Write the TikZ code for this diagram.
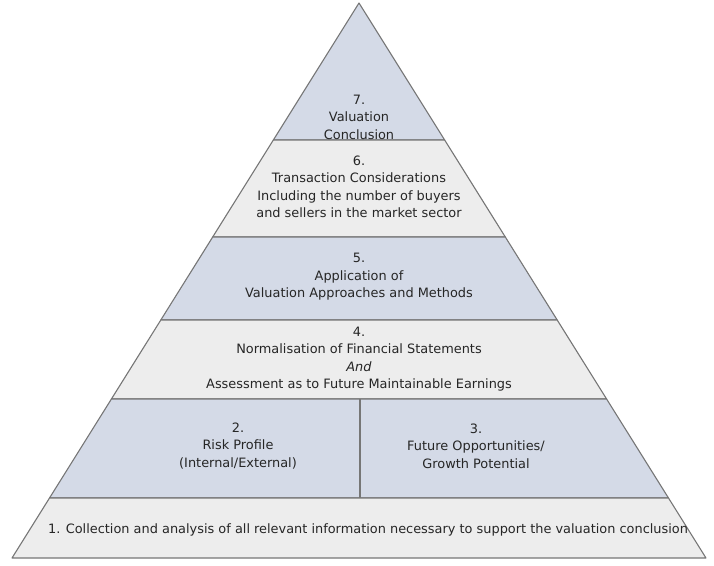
\documentclass[tikz,border=0pt]{standalone}
\usepackage{fontspec}
\setmainfont{DejaVu Sans}
\usetikzlibrary{calc}
\definecolor{bandblue}{RGB}{212,218,231}
\definecolor{bandgrey}{RGB}{237,237,237}
\definecolor{edgegrey}{RGB}{118,118,118}

\begin{document}
\begin{tikzpicture}[
    x=1pt, y=-1pt,
    band/.style={draw=edgegrey, line width=1.1pt, line join=round},
    level/.style={align=center, text=black!85, font=\fontsize{12.9}{17.5}\selectfont}
]
    \useasboundingbox (0,0) rectangle (714,565);

    % Pyramid corners
    \coordinate (apex) at (359,3);
    \coordinate (bl) at (12,558);
    \coordinate (br) at (706,558);

    % Band edges on both sides
    \foreach \n/\t in {a/0.2468, b/0.4216, c/0.5712, d/0.7135, e/0.8919} {
        \coordinate (l\n) at ($(apex)!\t!(bl)$);
        \coordinate (r\n) at ($(apex)!\t!(br)$);
    }

    % Bands
    \filldraw[band, fill=bandblue] (apex) -- (ra) -- (la) -- cycle;
    \filldraw[band, fill=bandgrey] (la) -- (ra) -- (rb) -- (lb) -- cycle;
    \filldraw[band, fill=bandblue] (lb) -- (rb) -- (rc) -- (lc) -- cycle;
    \filldraw[band, fill=bandgrey] (lc) -- (rc) -- (rd) -- (ld) -- cycle;
    \filldraw[band, fill=bandblue] (ld) -- (rd) -- (re) -- (le) -- cycle;
    \filldraw[band, fill=bandgrey] (le) -- (re) -- (br) -- (bl) -- cycle;

    % Split of the second band
    \coordinate (mtop) at (360,399);
    \coordinate (mbot) at (360,498);
    \draw[band] (mtop) -- (mbot);

    % Labels
    \node[level] (t7) at (359,117) {7.\\Valuation\\Conclusion};
    \node[level] (t6) at (359,187) {6.\\Transaction Considerations\\Including the number of buyers\\and sellers in the market sector};
    \node[level] (t5) at (359,277) {5.\\Application of\\Valuation Approaches and Methods};
    \node[level] (t4) at (359,359) {4.\\Normalisation of Financial Statements\\\textit{And}\\Assessment as to Future Maintainable Earnings};
    \node[level] (t2) at (238,446) {2.\\Risk Profile\\(Internal/External)};
    \node[level] (t3) at (476,446) {3.\\Future Opportunities/\\Growth Potential};
    \node[level] (t1) at (368,530) {1. Collection and analysis of all relevant information necessary to support the valuation conclusion};
\end{tikzpicture}
\end{document}
